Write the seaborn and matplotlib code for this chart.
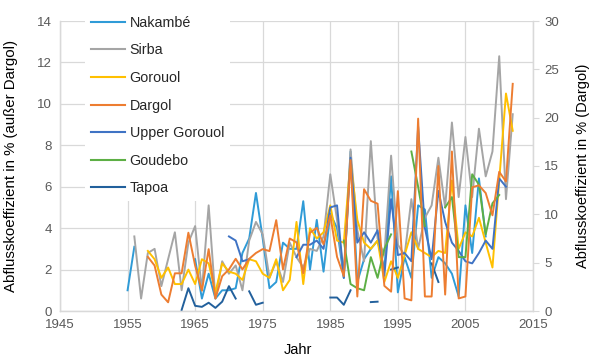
import numpy as np
import pandas as pd
import matplotlib.pyplot as plt
from matplotlib.lines import Line2D
import seaborn as sns

nan = np.nan
years = list(range(1955, 2013))

# Abflusskoeffizient in % (linke Achse), Dargol auf rechter Achse
nakambe = [1.0, 3.1, nan, nan, nan, nan, nan, nan, nan, nan,
           2.5, 0.6, 1.8, 0.6, 1.0, 1.0, 1.1, 2.8, 3.5, 5.7,
           3.5, 1.1, 1.4, 3.3, 3.0, 3.0, 5.3, 2.0, 4.4, 1.9,
           4.7, 4.0, 1.6, 7.7, 1.4, 2.5, 3.0, 3.4, 2.0, 6.5,
           0.9, 2.6, 1.6, 5.1, 4.9, 1.6, 2.6, 2.3, 1.8, 0.7,
           5.1, 2.8, 6.4, 3.6, nan, nan, nan, nan]
sirba = [nan, 3.6, 0.6, 2.8, 3.0, 1.2, 2.5, 3.8, 1.0, 3.3,
         4.1, 1.0, 5.1, 0.6, 2.4, 1.8, 2.2, 1.0, 3.4, 4.3,
         3.7, 1.6, 2.4, 1.4, 3.3, 2.6, 2.1, 3.0, 2.9, 3.6,
         6.6, 4.4, 1.8, 7.8, 3.9, 2.4, 8.2, 3.5, 2.7, 7.5,
         3.2, 2.7, 5.4, 3.0, 4.5, 5.1, 7.4, 5.0, 9.1, 5.5,
         8.4, 5.5, 8.8, 6.5, 7.7, 12.3, 5.4, 9.5]
gorouol = [nan, nan, nan, 2.9, 2.5, 1.6, 2.1, 1.3, 1.3, 2.0,
           1.3, 2.5, 2.3, 0.9, 2.3, 1.9, 1.8, 1.5, 2.5, 2.4,
           1.8, 1.6, 2.5, 1.0, 1.5, 4.3, 1.3, 4.0, 3.5, 3.8,
           5.1, 3.4, 3.3, 7.3, 4.4, 3.3, 3.0, 3.4, 1.4, 2.4,
           1.6, 2.7, 3.8, 3.0, 2.8, 2.6, 2.9, 2.8, 6.3, 3.0,
           3.8, 3.6, 4.5, 3.3, 2.1, 6.3, 10.5, 8.7]
dargol = [nan, nan, nan, 5.6, 4.7, 1.7, 0.9, 3.9, 3.9, 8.1,
          4.7, 2.1, 6.4, 1.3, 3.6, 4.3, 5.4, 4.3, 5.4, 6.0,
          6.4, 6.2, 9.4, 4.3, 7.5, 7.1, 3.9, 8.1, 8.6, 6.9,
          9.9, 5.6, 3.6, 15.6, 1.5, 12.6, 11.4, 11.1, 2.6, 2.0,
          12.4, 1.3, 1.1, 19.9, 1.5, 1.5, 15.0, 1.7, 16.5, 1.3,
          1.5, 12.8, 13.0, 12.2, 9.9, 14.4, 13.4, 23.5]
upper_gorouol = [nan, nan, nan, nan, nan, nan, nan, nan, nan, nan,
                 nan, nan, nan, nan, nan, 3.6, 3.4, 2.4, 2.5, nan,
                 nan, nan, nan, nan, nan, 2.6, 3.2, 3.2, 3.4, 3.0,
                 5.0, 5.1, 1.6, 7.4, 3.3, 3.8, 3.3, 3.9, 1.7, 5.4,
                 2.7, 2.8, 2.4, 8.9, 4.0, 2.5, 5.8, 4.3, 3.3, 2.9,
                 2.4, 2.3, 2.8, 3.4, 3.0, 6.4, 6.0, nan]
goudebo = [nan, nan, nan, nan, nan, nan, nan, nan, nan, nan,
           nan, nan, nan, nan, nan, nan, nan, nan, nan, nan,
           nan, nan, nan, nan, nan, nan, nan, nan, nan, nan,
           nan, nan, 3.4, 1.3, 1.1, 1.0, 2.6, 1.6, 3.0, 3.7,
           nan, nan, 7.7, 6.0, 4.1, nan, nan, 5.0, 5.5, 2.6,
           2.6, 6.6, 6.1, 3.7, 5.2, 5.6, nan, nan]
tapoa = [nan, nan, nan, nan, nan, nan, nan, nan, 0.05, 1.1,
         0.25, 0.2, 0.4, 0.15, 0.45, 1.2, 0.6, nan, 0.95, 0.3,
         0.4, nan, nan, nan, nan, nan, nan, nan, nan, nan,
         0.65, 0.65, 0.3, 1.0, nan, nan, 0.43, 0.45, nan, 2.0,
         2.1, nan, nan, nan, nan, 2.3, 1.4, nan, nan, nan,
         nan, nan, nan, nan, nan, nan, nan, nan]

names = ['Nakambé', 'Sirba', 'Gorouol', 'Dargol', 'Upper Gorouol', 'Goudebo', 'Tapoa']
colors = ['#2F9BD7', '#A5A5A5', '#FFC000', '#ED7D31', '#3F73C4', '#5DAF45', '#22609C']
palette = dict(zip(names, colors))


def long_table(name, values):
    s = pd.Series(values, index=years, dtype=float)
    seg = s.isna().cumsum()
    df = pd.DataFrame({'Jahr': years, 'Wert': s.values, 'seg': seg.values})
    df['Reihe'] = name
    return df.dropna()


left_df = pd.concat([long_table(n, v) for n, v in
                     [('Nakambé', nakambe), ('Sirba', sirba), ('Gorouol', gorouol),
                      ('Upper Gorouol', upper_gorouol), ('Goudebo', goudebo),
                      ('Tapoa', tapoa)]], ignore_index=True)
right_df = long_table('Dargol', dargol)

plt.rcParams['font.family'] = ['Liberation Sans', 'DejaVu Sans']

fig = plt.figure(figsize=(5.91, 3.59), dpi=100)
ax = fig.add_axes([60 / 591, 1 - 311 / 359, 473 / 591, 290 / 359])
ax2 = ax.twinx()

sns.lineplot(data=left_df, x='Jahr', y='Wert', hue='Reihe', units='seg',
             estimator=None, palette=palette, linewidth=1.4, legend=False,
             sort=False, ax=ax)
sns.lineplot(data=right_df, x='Jahr', y='Wert', units='seg', estimator=None,
             color=palette['Dargol'], linewidth=1.4, legend=False, sort=False, ax=ax2)

grid_c = '#D9D9D9'
tick_c = '#595959'
ax.set_xlim(1945, 2015)
ax.set_xticks(range(1945, 2016, 10))
ax.set_ylim(0, 14)
ax.set_yticks(range(0, 15, 2))
ax2.set_ylim(0, 30)
ax2.set_yticks(range(0, 31, 5))
ax.grid(True, color=grid_c, linewidth=0.9)
ax.set_axisbelow(True)

for a in (ax, ax2):
    a.spines['top'].set_visible(False)
    for sp in ('left', 'right', 'bottom'):
        a.spines[sp].set_color(grid_c)
        a.spines[sp].set_linewidth(0.9)
ax.tick_params(axis='both', length=0, labelsize=9.5, labelcolor=tick_c, pad=6)
ax2.tick_params(axis='y', length=4, color=grid_c, labelsize=9.5, labelcolor=tick_c, pad=4)

ax.set_xlabel('Jahr', fontsize=10.5)
ax.set_ylabel('Abflusskoeffizient in % (außer Dargol)', fontsize=10.8)
ax2.set_ylabel('Abflusskoeffizient in % (Dargol)', fontsize=10.5)
ax.xaxis.set_label_coords(0.503, -0.11)
ax.yaxis.set_label_coords(-0.089, 0.5)
ax2.yaxis.set_label_coords(1.091, 0.5)

handles = [Line2D([0], [0], color=c, linewidth=1.5) for c in colors]
leg = fig.legend(handles, names, loc='upper left', bbox_to_anchor=(78 / 591, 1 - 3 / 359),
                 frameon=True, facecolor='white', edgecolor='none', framealpha=1,
                 fontsize=10.3, handlelength=2.4, labelspacing=0.95, borderpad=0.4,
                 handletextpad=0.3)
for t in leg.get_texts():
    t.set_color('#262626')

fig.savefig('out.png', dpi=100)
plt.close(fig)
